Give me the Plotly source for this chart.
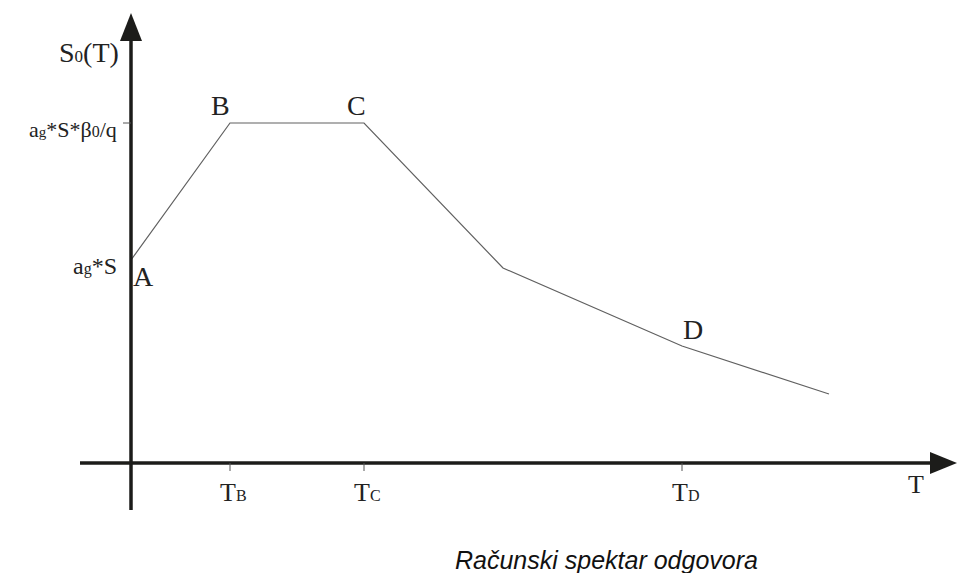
import plotly.graph_objects as go

# --- data (T in arbitrary units, S0 in arbitrary units) ---
period = [0.0, 0.99, 2.33, 3.72, 5.51, 6.98]
spectrum = [2.03, 3.40, 3.40, 1.95, 1.17, 0.69]
point_names = ["A", "B", "C", "", "D", ""]
x_ticks = [0.99, 2.33, 5.51]
x_tick_labels = ["T<span style='font-size:16px'>B</span>",
                 "T<span style='font-size:16px'>C</span>",
                 "T<span style='font-size:16px'>D</span>"]
y_ticks = [2.03, 3.40]
y_tick_labels = ["a<span style='font-size:16px'>g</span>*S",
                 "a<span style='font-size:15px'>g</span>*S*β<span style='font-size:16px'>0</span>/q"]
y_label_sizes = [24, 22]
caption = "Računski spektar odgovora"

W, H = 957, 573
X0PX, Y0PX, SC = 131, 463, 100.0
def X(px): return (px - X0PX) / SC
def Y(py): return (Y0PX - py) / SC

SERIF = "Liberation Serif"
AX = "#1c1c1a"
TXT = "#222"

fig = go.Figure()
fig.add_trace(go.Scatter(x=period, y=spectrum, mode="lines",
                         line=dict(color="#606060", width=1.2),
                         hoverinfo="skip", showlegend=False))

shapes = []
# axes
shapes.append(dict(type="line", x0=X(80), x1=X(935), y0=0, y1=0,
                   line=dict(color=AX, width=3.5)))
shapes.append(dict(type="line", x0=0, x1=0, y0=Y(510), y1=Y(35),
                   line=dict(color=AX, width=3.5)))
# arrow heads
shapes.append(dict(type="path",
                   path=f"M {X(957)} 0 L {X(930)} {Y(452)} L {X(930)} {Y(474)} Z",
                   fillcolor=AX, line=dict(color=AX, width=0)))
shapes.append(dict(type="path",
                   path=f"M 0 {Y(13)} L {X(120)} {Y(41)} L {X(142)} {Y(41)} Z",
                   fillcolor=AX, line=dict(color=AX, width=0)))
# ticks
for t in x_ticks:
    shapes.append(dict(type="line", x0=t, x1=t, y0=0, y1=Y(471),
                       line=dict(color="#555", width=1)))
shapes.append(dict(type="line", x0=X(123), x1=0, y0=y_ticks[1], y1=y_ticks[1],
                   line=dict(color="#555", width=1)))

ann = []
for t, lab in zip(x_ticks, x_tick_labels):
    ann.append(dict(x=t + 0.03, y=Y(492), text=lab, showarrow=False,
                    font=dict(family=SERIF, size=26, color=TXT),
                    xanchor="center", yanchor="middle"))
for v, lab, sz in zip(y_ticks, y_tick_labels, y_label_sizes):
    ann.append(dict(x=X(119), y=v - 0.06, text=lab, showarrow=False,
                    font=dict(family=SERIF, size=sz, color=TXT),
                    xanchor="right", yanchor="middle"))
# point labels
offsets = {"A": (12, -16), "B": (-10, 18), "C": (-8, 18), "D": (11, 17)}
for x, y, n in zip(period, spectrum, point_names):
    if n:
        dx, dy = offsets[n]
        ann.append(dict(x=x + dx / SC, y=y + dy / SC, text=n, showarrow=False,
                        font=dict(family=SERIF, size=28, color=TXT),
                        xanchor="center", yanchor="middle"))
ann.append(dict(x=X(89), y=Y(52), text="S<span style='font-size:17px'>0</span>(T)",
                showarrow=False, font=dict(family=SERIF, size=28, color=TXT),
                xanchor="center", yanchor="middle"))
ann.append(dict(x=X(916), y=Y(484), text="T", showarrow=False,
                font=dict(family=SERIF, size=26, color=TXT),
                xanchor="center", yanchor="middle"))
ann.append(dict(x=X(606), y=Y(560), text="<i>" + caption + "</i>", showarrow=False,
                font=dict(family="Liberation Sans", size=25, color="#111"),
                xanchor="center", yanchor="middle"))

fig.update_layout(
    width=W, height=H, margin=dict(l=0, r=0, t=0, b=0),
    paper_bgcolor="white", plot_bgcolor="white",
    xaxis=dict(range=[X(0), X(W)], visible=False, fixedrange=True),
    yaxis=dict(range=[Y(H), Y(0)], visible=False, fixedrange=True),
    shapes=shapes, annotations=ann,
)
fig.write_html("out.html", config=dict(displayModeBar=False),
               post_script="document.body.style.margin='0';document.body.style.overflow='hidden';")
